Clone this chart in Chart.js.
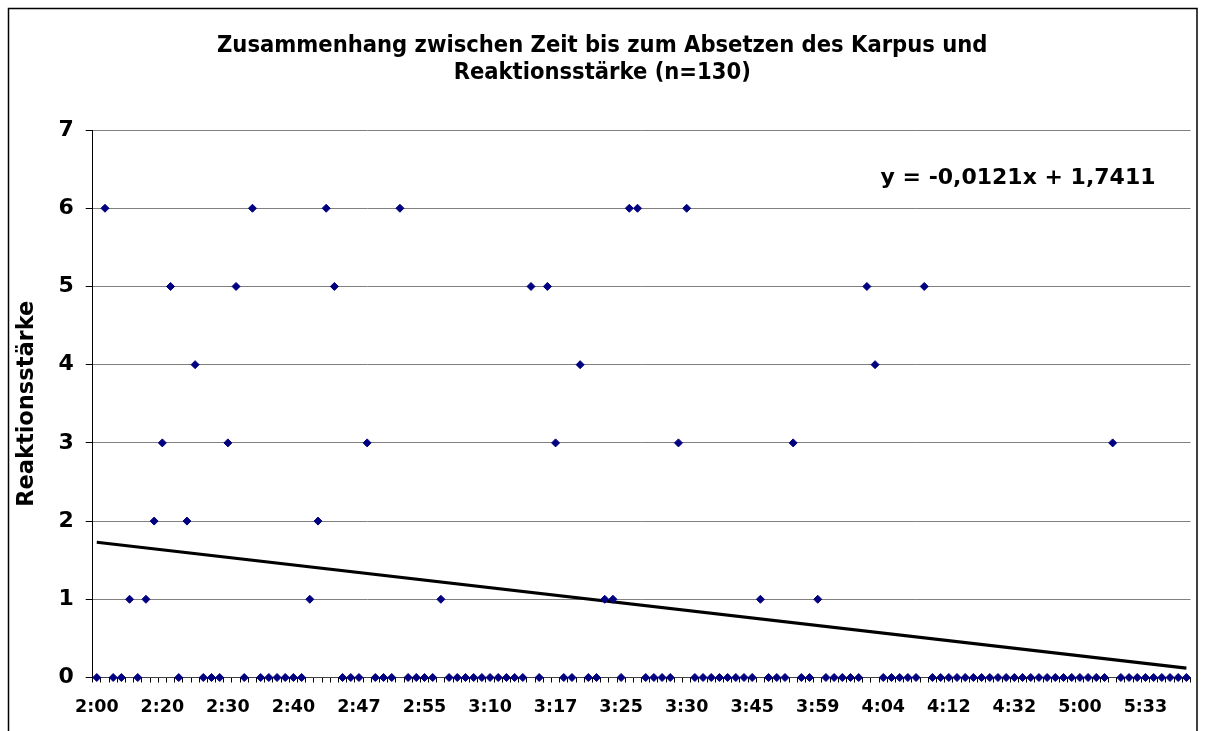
<!DOCTYPE html>
<html>
<head>
<meta charset="utf-8">
<script src="https://cdn.jsdelivr.net/npm/chart.js@4.4.1/dist/chart.umd.min.js"></script>
<style>
  body { margin: 0; background: #fff; }
  #wrap { width: 1206px; height: 731px; }
</style>
</head>
<body>
<div id="wrap"><canvas id="chart" width="1206" height="731"></canvas></div>
<script>
// x axis labels (only every 8th category carries a label)
const tickLabels = ['2:00', '2:20', '2:30', '2:40', '2:47', '2:55', '3:10', '3:17', '3:25',
  '3:30', '3:45', '3:59', '4:04', '4:12', '4:32', '5:00', '5:33'];

// Reaktionsstärke per animal, in order of time
const reaktion = [
  0, 6, 0, 0, 1, 0, 1, 2, 3, 5,
  0, 2, 4, 0, 0, 0, 3, 5, 0, 6,
  0, 0, 0, 0, 0, 0, 1, 2, 6, 5,
  0, 0, 0, 3, 0, 0, 0, 6, 0, 0,
  0, 0, 1, 0, 0, 0, 0, 0, 0, 0,
  0, 0, 0, 5, 0, 5, 3, 0, 0, 4,
  0, 0, 1, 1, 0, 6, 6, 0, 0, 0,
  0, 3, 6, 0, 0, 0, 0, 0, 0, 0,
  0, 1, 0, 0, 0, 3, 0, 0, 1, 0,
  0, 0, 0, 0, 5, 4, 0, 0, 0, 0,
  0, 5, 0, 0, 0, 0, 0, 0, 0, 0,
  0, 0, 0, 0, 0, 0, 0, 0, 0, 0,
  0, 0, 0, 0, 3, 0, 0, 0, 0, 0,
  0, 0, 0, 0
];

// linear trend as printed in the chart
const slope = -0.0121;
const intercept = 1.7411;
const equationText = 'y = -0,0121x + 1,7411';

const categories = reaktion.map((v, i) => i + 1);
const trend = categories.map(() => null);
trend[0] = intercept + slope * categories[0];
trend[trend.length - 1] = intercept + slope * categories[categories.length - 1];

const verdana = 'DejaVu Sans, Verdana, sans-serif';

// frame round the chart + the equation text
const extras = {
  id: 'extras',
  beforeDraw(chart) {
    const c = chart.ctx;
    c.save();
    c.fillStyle = '#fff';
    c.fillRect(0, 0, chart.width, chart.height);
    c.strokeStyle = '#000';
    c.lineWidth = 1.5;
    c.strokeRect(8.5, 8.5, 1188.5, 740);
    c.restore();
  },
  afterDraw(chart) {
    const c = chart.ctx;
    const area = chart.chartArea;
    c.save();
    c.font = 'bold 22px ' + verdana;
    c.fillStyle = '#000';
    c.textAlign = 'right';
    c.textBaseline = 'middle';
    c.fillText(equationText, area.right - 35, area.top + 48);
    c.restore();
  }
};

new Chart(document.getElementById('chart'), {
  type: 'line',
  data: {
    labels: categories,
    datasets: [
      {
        label: 'Reaktionsstärke',
        data: reaktion,
        showLine: false,
        pointStyle: 'rectRot',
        pointRadius: 4,
        pointBackgroundColor: '#000080',
        pointBorderColor: '#000080',
        pointBorderWidth: 1,
        clip: false
      },
      {
        label: 'Trend',
        data: trend,
        spanGaps: true,
        borderColor: '#000',
        borderWidth: 3.2,
        pointRadius: 0
      }
    ]
  },
  options: {
    responsive: false,
    animation: false,
    layout: { padding: { left: 14, right: 15.5, top: 0, bottom: 0 } },
    plugins: {
      legend: { display: false },
      tooltip: { enabled: false },
      title: {
        display: true,
        text: ['Zusammenhang zwischen Zeit bis zum Absetzen des Karpus und', 'Reaktionsstärke (n=130)'],
        color: '#000',
        font: { family: 'DejaVu Sans Condensed, Liberation Sans, sans-serif', size: 23.5, weight: 'bold', lineHeight: 1.15 },
        padding: { top: 32, bottom: 44 }
      }
    },
    scales: {
      x: {
        offset: true,
        grid: { offset: true, drawOnChartArea: false, tickLength: 5, color: '#000' },
        border: { color: '#404040', width: 1 },
        ticks: {
          autoSkip: false,
          maxRotation: 0,
          minRotation: 0,
          padding: 14,
          color: '#000',
          font: { family: verdana, size: 17.5, weight: 'bold' },
          callback: (v, i) => (i % 8 === 0 ? tickLabels[i / 8] : '')
        },
        afterFit: (s) => { s.height = 53.5; }
      },
      y: {
        min: 0,
        max: 7,
        ticks: { stepSize: 1, padding: 12, color: '#000', font: { family: verdana, size: 22, weight: 'bold' } },
        grid: { color: '#808080', tickColor: '#000', tickLength: 7 },
        border: { color: '#000', width: 1 },
        title: {
          display: true,
          text: 'Reaktionsstärke',
          color: '#000',
          font: { family: verdana, size: 22.5, weight: 'bold' },
          padding: { top: 0, bottom: 0 }
        },
        afterFit: (s) => { s.width = 78.7; }
      }
    }
  },
  plugins: [extras]
});
</script>
</body>
</html>
